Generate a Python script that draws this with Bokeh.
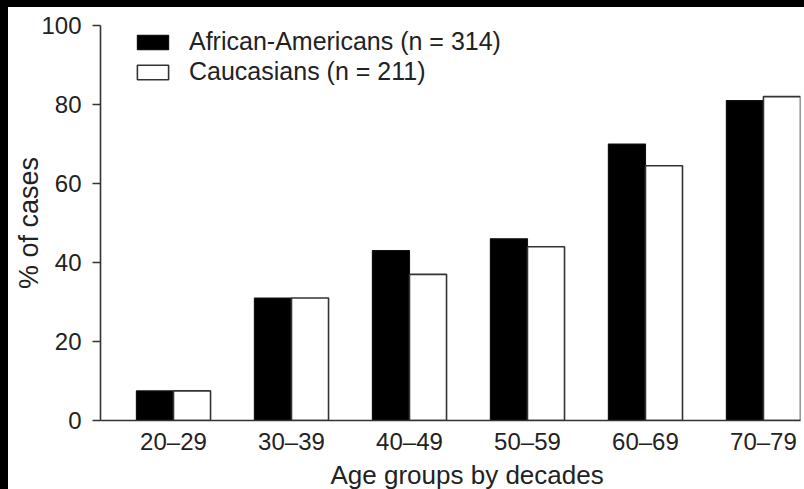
from bokeh.plotting import figure
from bokeh.models import (Range1d, FixedTicker, ColumnDataSource, Legend, LegendItem,
                          Title, Div)
from bokeh.layouts import column, row
from bokeh.transform import dodge
from bokeh.embed import file_html
from bokeh.resources import INLINE

# ---- data ----
age_groups = ["20–29", "30–39", "40–49", "50–59", "60–69", "70–79"]
group_pos = [0, 1, 2, 3, 4, 5]
african_americans = [7.5, 31, 43, 46, 70, 81]
caucasians = [7.5, 31, 37, 44, 64.5, 82]
y_ticks = [0, 20, 40, 60, 80, 100]

FONT = "Liberation Sans"
BAR_W = 0.314

src = ColumnDataSource(dict(x=group_pos, aa=african_americans, ca=caucasians))

p = figure(width=796, height=482, output_backend="svg", toolbar_location=None,
           x_range=Range1d(-0.6186, 5.314), y_range=Range1d(0, 100),
           min_border_left=92, min_border_right=4, min_border_top=18, min_border_bottom=64)
p.background_fill_color = "white"
p.border_fill_color = "white"
p.outline_line_color = None
p.grid.visible = False
p.margin = 0

r1 = p.vbar(x=dodge("x", -BAR_W / 2), top="aa", width=BAR_W, source=src,
            fill_color="black", line_color="#111111", line_width=1.2)
r2 = p.vbar(x=dodge("x", BAR_W / 2), top="ca", width=BAR_W, source=src,
            fill_color="white", line_color="#333333", line_width=1.6)

# axes
for ax in (p.xaxis[0], p.yaxis[0]):
    ax.axis_line_color = "#333333"
    ax.axis_line_width = 1.6
    ax.major_label_text_font = FONT
    ax.major_label_text_font_size = "24px"
    ax.major_label_text_color = "#222222"
    ax.minor_tick_line_color = None

p.xaxis.ticker = FixedTicker(ticks=group_pos)
p.xaxis.major_label_overrides = {i: lab for i, lab in zip(group_pos, age_groups)}
p.xaxis.major_tick_line_color = None
p.xaxis.major_tick_out = 0
p.xaxis.major_tick_in = 0
p.xaxis.major_label_standoff = 7

p.yaxis.ticker = FixedTicker(ticks=y_ticks)
p.yaxis.major_tick_out = 8
p.yaxis.major_tick_in = 0
p.yaxis.major_tick_line_color = "#333333"
p.yaxis.major_tick_line_width = 1.6
p.yaxis.major_label_standoff = 11
p.yaxis.axis_label = "% of cases"
p.yaxis.axis_label_text_font = FONT
p.yaxis.axis_label_text_font_size = "27px"
p.yaxis.axis_label_text_font_style = "normal"
p.yaxis.axis_label_text_color = "#222222"
p.yaxis.axis_label_standoff = -6

xtitle = Title(text="Age groups by decades", align="left", offset=230, standoff=0,
               text_font=FONT, text_font_size="26px", text_font_style="normal",
               text_color="#222222")
p.add_layout(xtitle, "below")

legend = Legend(items=[LegendItem(label="African-Americans (n = 314)", renderers=[r1]),
                       LegendItem(label="Caucasians (n = 211)", renderers=[r2])],
                location=(33, 334))
legend.border_line_color = None
legend.background_fill_alpha = 0
legend.padding = 0
legend.margin = 0
legend.spacing = 1
legend.glyph_width = 39
legend.glyph_height = 18
legend.label_standoff = 17
legend.label_text_font = FONT
legend.label_text_font_size = "25px"
legend.label_text_color = "#222222"
p.add_layout(legend, "center")

# black scan frame along the top and left edges
top_band = Div(text="", width=804, height=7, margin=0,
               styles={"background-color": "black"})
left_band = Div(text="", width=8, height=482, margin=0,
                styles={"background-color": "black"})
layout = column(top_band, row(left_band, p, spacing=0), spacing=0)

open("out.html", "w").write(file_html(layout, INLINE))
